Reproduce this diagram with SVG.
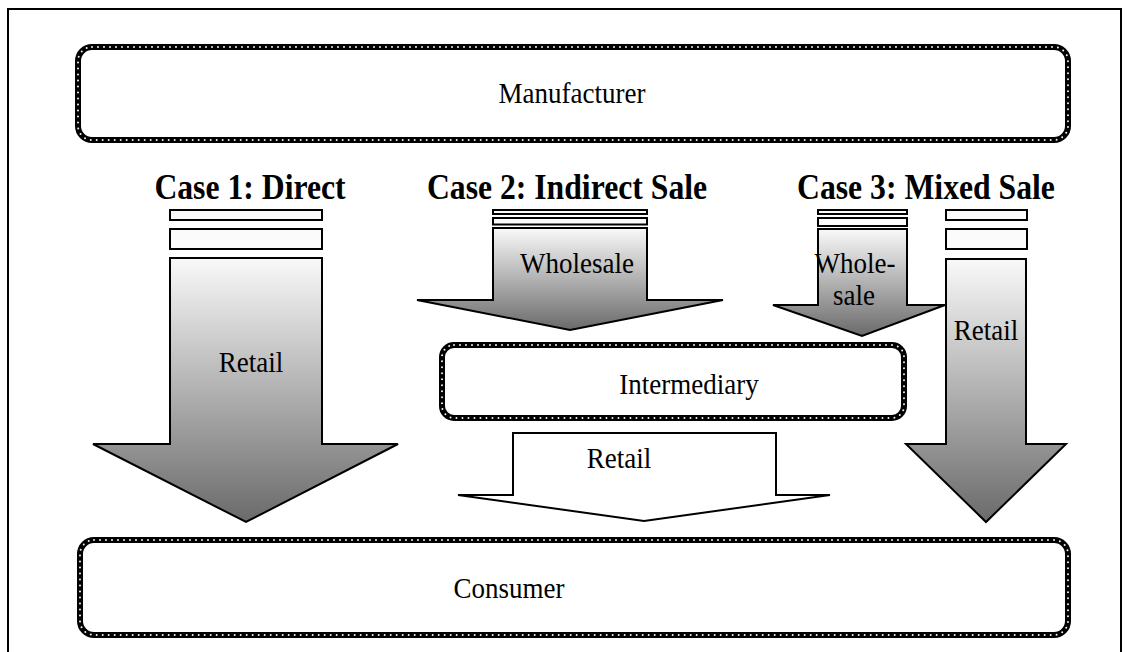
<svg xmlns="http://www.w3.org/2000/svg" width="1130" height="652" viewBox="0 0 1130 652">
  <style>
    .frame { fill: none; stroke: #000; stroke-width: 2; }
    .box-outer { fill: #fff; stroke: #000; stroke-width: 6; }
    .box-dots { fill: none; stroke: #f2f2f2; stroke-width: 2; stroke-dasharray: 0 6; stroke-linecap: round; }
    .arrow { stroke: #000; stroke-width: 2; stroke-linejoin: miter; }
    .bar { fill: #fbfbfb; stroke: #000; stroke-width: 2; }
    .lbl { font-family: "Liberation Serif", "Times New Roman", serif; font-size: 27px; fill: #000; text-anchor: middle; }
    .head { font-family: "Liberation Serif", "Times New Roman", serif; font-size: 31.7px; font-weight: bold; fill: #000; text-anchor: middle; }
  </style>
  <defs>
    <linearGradient id="shade" x1="0" y1="0" x2="0" y2="1">
      <stop offset="0" stop-color="#f9f9f9"/>
      <stop offset="1" stop-color="#6a6a6a"/>
    </linearGradient>
  </defs>

  <rect width="1130" height="652" fill="#fff"/>
  <!-- page frame -->
  <path class="frame" d="M8,653 V9 H1121 V653"/>

  <!-- stations -->
  <g id="manufacturer">
    <rect class="box-outer" x="78" y="47" width="990" height="93" rx="14"/>
    <rect class="box-dots" x="78" y="47" width="990" height="93" rx="14"/>
    <text class="lbl" transform="translate(572,103) scale(1,1.1)">Manufacturer</text>
  </g>

  <g id="intermediary">
    <rect class="box-outer" x="442" y="345" width="462" height="73" rx="12"/>
    <rect class="box-dots" x="442" y="345" width="462" height="73" rx="12"/>
    <text class="lbl" transform="translate(689,394) scale(1,1.1)">Intermediary</text>
  </g>

  <g id="consumer">
    <rect class="box-outer" x="80" y="540" width="988" height="95" rx="14"/>
    <rect class="box-dots" x="80" y="540" width="988" height="95" rx="14"/>
    <text class="lbl" transform="translate(509,598) scale(1,1.1)">Consumer</text>
  </g>

  <!-- case headings -->
  <g id="case-headings">
    <text class="head" transform="translate(250,199) scale(1,1.1)">Case 1: Direct</text>
    <text class="head" transform="translate(567,199) scale(1,1.1)">Case 2: Indirect Sale</text>
    <text class="head" transform="translate(926,199) scale(1,1.1)">Case 3: Mixed Sale</text>
  </g>

  <!-- flow arrows -->
  <g id="connectors">
    <g id="case1-retail">
      <rect class="bar" x="170" y="210" width="152" height="10"/>
      <rect class="bar" x="170" y="229" width="152" height="20"/>
      <path class="arrow" fill="url(#shade)" d="M170,258 H322 V444 H398 L246,522 L93,444 H170 Z"/>
      <text class="lbl" transform="translate(251,372) scale(1,1.1)">Retail</text>
    </g>

    <g id="case2-wholesale">
      <rect class="bar" x="493" y="210" width="154" height="4"/>
      <rect class="bar" x="493" y="218" width="154" height="6.5"/>
      <path class="arrow" fill="url(#shade)" d="M493,228 H647 V300 H723 L570,330 L417,300 H493 Z"/>
      <text class="lbl" transform="translate(577,273) scale(1,1.1)">Wholesale</text>
    </g>

    <g id="case2-retail">
      <path class="arrow" fill="#fff" d="M513,433 H776 V495 H830 L644,521 L458,495 H513 Z"/>
      <text class="lbl" transform="translate(619,468) scale(1,1.1)">Retail</text>
    </g>

    <g id="case3-wholesale">
      <rect class="bar" x="818" y="210" width="89" height="4"/>
      <rect class="bar" x="818" y="218" width="89" height="8"/>
      <path class="arrow" fill="url(#shade)" d="M818,229 H907 V305 H945 L862,336 L773,305 H818 Z"/>
      <text class="lbl" transform="translate(855,273) scale(1,1.1)">Whole-</text>
      <text class="lbl" transform="translate(854,305) scale(1,1.1)">sale</text>
    </g>

    <g id="case3-retail">
      <rect class="bar" x="946" y="210" width="81" height="10"/>
      <rect class="bar" x="946" y="229" width="81" height="20"/>
      <path class="arrow" fill="url(#shade)" d="M946,259 H1026 V444 H1066 L986,522 L906,444 H946 Z"/>
      <text class="lbl" transform="translate(986,340) scale(1,1.1)">Retail</text>
    </g>
  </g>
</svg>
